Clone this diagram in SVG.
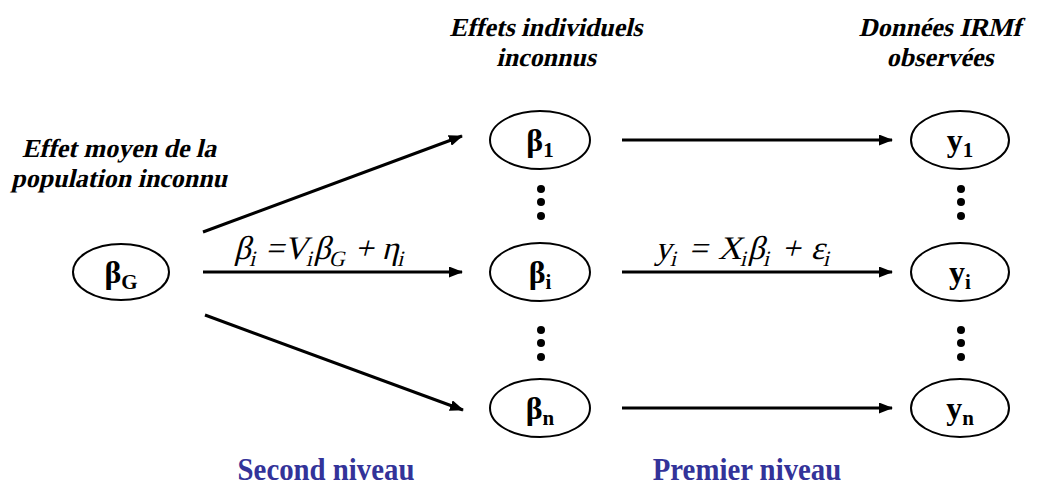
<svg xmlns="http://www.w3.org/2000/svg" width="1039" height="487" viewBox="0 0 1039 487">
<style>
.node{fill:#fff;stroke:#000;stroke-width:2}
.lab{font-family:"Liberation Serif","Times New Roman",serif;font-weight:bold;font-size:32px;fill:#000;text-anchor:middle}
.sub{font-size:21px}
.hdr{font-family:"Liberation Serif","Times New Roman",serif;font-weight:bold;font-size:26px;fill:#000;text-anchor:middle}
.eq{font-family:"Liberation Serif","Times New Roman",serif;font-size:33px;fill:#000}
.eqs{font-size:22px}
.lvl{font-family:"Liberation Serif","Times New Roman",serif;font-weight:bold;font-size:32px;fill:#333399;text-anchor:middle}
.conn line{stroke:#000;stroke-width:3}
.dot{fill:#000}
</style>
<defs>
<marker id="ah" markerWidth="14" markerHeight="11" refX="13" refY="5.5" orient="auto" markerUnits="userSpaceOnUse" viewBox="0 0 14 11">
<path d="M0,0 L14,5.5 L0,11 Z" fill="#000"/>
</marker>
</defs>
<rect width="1039" height="487" fill="#fff"/>
<g id="connectors" class="conn">
<line x1="203" y1="232" x2="462" y2="136" marker-end="url(#ah)"/>
<line x1="203" y1="272" x2="462" y2="272" marker-end="url(#ah)"/>
<line x1="205" y1="315" x2="463" y2="410" marker-end="url(#ah)"/>
<line x1="622" y1="140" x2="892" y2="140" marker-end="url(#ah)"/>
<line x1="622" y1="272" x2="892" y2="272" marker-end="url(#ah)"/>
<line x1="622" y1="408" x2="892" y2="408" marker-end="url(#ah)"/>
</g>
<g id="nodeBG"><ellipse class="node" cx="121" cy="272" rx="48" ry="28"/><text class="lab" x="121" y="283">β<tspan class="sub" dy="6">G</tspan></text></g>
<g id="nodeB1"><ellipse class="node" cx="540" cy="140" rx="50" ry="29"/><text class="lab" x="540" y="151">β<tspan class="sub" dy="6">1</tspan></text></g>
<g id="nodeBi"><ellipse class="node" cx="540" cy="272" rx="50" ry="29"/><text class="lab" x="540" y="283">β<tspan class="sub" dy="6">i</tspan></text></g>
<g id="nodeBn"><ellipse class="node" cx="540" cy="408" rx="50" ry="29"/><text class="lab" x="540" y="419">β<tspan class="sub" dy="6">n</tspan></text></g>
<g id="nodeY1"><ellipse class="node" cx="960" cy="140" rx="49" ry="29"/><text class="lab" x="960" y="151">y<tspan class="sub" dy="6">1</tspan></text></g>
<g id="nodeYi"><ellipse class="node" cx="960" cy="272" rx="49" ry="29"/><text class="lab" x="960" y="283">y<tspan class="sub" dy="6">i</tspan></text></g>
<g id="nodeYn"><ellipse class="node" cx="960" cy="408" rx="49" ry="29"/><text class="lab" x="960" y="419">y<tspan class="sub" dy="6">n</tspan></text></g>
<g id="dots">
<circle class="dot" cx="541" cy="189" r="4"/><circle class="dot" cx="541" cy="202" r="4"/><circle class="dot" cx="541" cy="216" r="4"/>
<circle class="dot" cx="541" cy="330" r="4"/><circle class="dot" cx="541" cy="343" r="4"/><circle class="dot" cx="541" cy="357" r="4"/>
<circle class="dot" cx="961" cy="189" r="4"/><circle class="dot" cx="961" cy="202" r="4"/><circle class="dot" cx="961" cy="216" r="4"/>
<circle class="dot" cx="961" cy="330" r="4"/><circle class="dot" cx="961" cy="343" r="4"/><circle class="dot" cx="961" cy="357" r="4"/>
</g>
<g id="headers">
<text class="hdr" transform="translate(119,157) skewX(-13)">Effet moyen de la</text>
<text class="hdr" transform="translate(119,187) skewX(-13)">population inconnu</text>
<text class="hdr" transform="translate(546,36) skewX(-13)">Effets individuels</text>
<text class="hdr" transform="translate(546,66) skewX(-13)">inconnus</text>
<text class="hdr" transform="translate(940,36) skewX(-13)">Données IRMf</text>
<text class="hdr" transform="translate(940,66) skewX(-13)">observées</text>
</g>
<g id="equations">
<text class="eq" transform="translate(234,259) skewX(-14)">β<tspan class="eqs" dy="7">i</tspan><tspan dy="-7"> =V</tspan><tspan class="eqs" dy="7">i</tspan><tspan dy="-7">β</tspan><tspan class="eqs" dy="7">G</tspan><tspan dy="-7"> + η</tspan><tspan class="eqs" dy="7">i</tspan></text>
<text class="eq" transform="translate(655,259) skewX(-14)">y<tspan class="eqs" dy="7">i</tspan><tspan dy="-7" dx="3"> = </tspan><tspan dx="2">X</tspan><tspan class="eqs" dy="7">i</tspan><tspan dy="-7">β</tspan><tspan class="eqs" dy="7">i</tspan><tspan dy="-7" dx="3"> + </tspan><tspan dx="2">ε</tspan><tspan class="eqs" dy="7">i</tspan></text>
</g>
<g id="levels">
<text class="lvl" transform="translate(326,480) scale(0.9,1)">Second niveau</text>
<text class="lvl" transform="translate(747,480) scale(0.9,1)">Premier niveau</text>
</g>
</svg>
